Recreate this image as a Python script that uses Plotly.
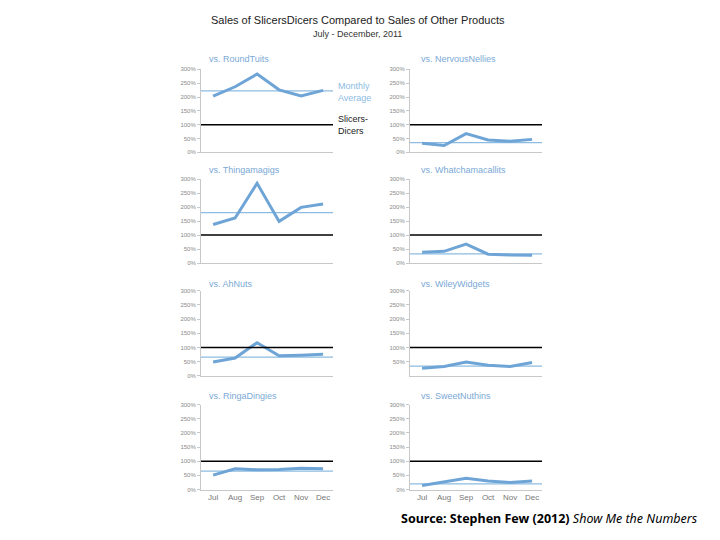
import plotly.graph_objects as go

months = ["Jul", "Aug", "Sep", "Oct", "Nov", "Dec"]
products = ["RoundTuits", "NervousNellies", "Thingamagigs", "Whatchamacallits",
            "AhNuts", "WileyWidgets", "RingaDingies", "SweetNuthins"]
round_tuits = [203, 237, 283, 226, 204, 224]
nervous_nellies = [33, 25, 68, 45, 40, 47]
thingamagigs = [138, 161, 285, 149, 199, 211]
whatchamacallits = [39, 42, 68, 32, 29, 28]
ah_nuts = [49, 63, 117, 71, 73, 76]
wiley_widgets = [27, 33, 49, 37, 33, 47]
ringa_dingies = [51, 73, 70, 71, 75, 73]
sweet_nuthins = [14, 28, 40, 30, 25, 30]
series = [round_tuits, nervous_nellies, thingamagigs, whatchamacallits,
          ah_nuts, wiley_widgets, ringa_dingies, sweet_nuthins]
monthly_avg = [222, 35, 180, 33, 66, 34, 65, 20]
baseline = 100
y_ticks = [0, 50, 100, 150, 200, 250, 300]
y_tick_text = ["0%", "50%", "100%", "150%", "200%", "250%", "300%"]

OFF = 8  # page body margin
W, H = 720 - OFF, 540 - OFF
col_px = [(201, 333), (410, 542)]
row_px = [(67, 151), (178, 263), (291, 377), (406, 492)]
title_y = [57, 169, 284, 397]
title_x = [207, 419]


def px(x):
    return (x - OFF) / W


def py(y):
    return 1 - (y - OFF) / H


LINE = "#6fa5d6"
AVG = "#8dbbe2"
TITLE_C = "#7aa9d6"

fig = go.Figure()
shapes = []
annotations = []
for i, (name, vals) in enumerate(zip(products, series)):
    r, c = divmod(i, 2)
    n = i + 1
    xa = "x" if n == 1 else f"x{n}"
    ya = "y" if n == 1 else f"y{n}"
    fig.add_trace(go.Scatter(x=months, y=vals, mode="lines", xaxis=xa, yaxis=ya,
                             line=dict(color=LINE, width=3), showlegend=False,
                             hoverinfo="skip"))
    x0, x1 = col_px[c]
    y0, y1 = row_px[r]
    key = "" if n == 1 else str(n)
    fig.layout["xaxis" + key] = dict(
        domain=[px(x0), px(x1)], anchor=ya, range=[-0.55, 5.45],
        showgrid=False, zeroline=False, showline=True, linecolor="#c8c8c8",
        linewidth=1, ticks="", showticklabels=(r == 3),
        tickfont=dict(size=8, color="#777777", family="Liberation Sans"),
        categoryorder="array", categoryarray=months, fixedrange=True)
    if name == "WileyWidgets":
        tv, tt = y_ticks[1:], y_tick_text[1:]
    else:
        tv, tt = y_ticks, y_tick_text
    fig.layout["yaxis" + key] = dict(
        domain=[py(y1), py(y0)], anchor=xa, range=[0, 300],
        tickvals=tv, ticktext=tt,
        showgrid=False, zeroline=False, showline=True, linecolor="#c8c8c8",
        linewidth=1, ticks="outside", ticklen=3, tickcolor="#c8c8c8",
        tickfont=dict(size=6, color="#8a8a8a", family="Liberation Sans"),
        fixedrange=True)
    shapes.append(dict(type="line", xref=f"{xa} domain", yref=ya, x0=0, x1=1,
                       y0=monthly_avg[i], y1=monthly_avg[i],
                       line=dict(color=AVG, width=1.2), layer="below"))
    shapes.append(dict(type="line", xref=f"{xa} domain", yref=ya, x0=0, x1=1,
                       y0=baseline, y1=baseline,
                       line=dict(color="black", width=1.5)))
    annotations.append(dict(text="vs. " + name, xref="paper", yref="paper",
                            x=px(title_x[c]), y=py(title_y[r]),
                            xanchor="left", yanchor="middle", showarrow=False,
                            font=dict(size=9, color=TITLE_C, family="Liberation Sans")))

annotations += [
    dict(text="Sales of SlicersDicers Compared to Sales of Other Products",
         xref="paper", yref="paper", x=px(358), y=py(17), showarrow=False,
         xanchor="center", yanchor="middle",
         font=dict(size=11, color="#222222", family="Liberation Sans")),
    dict(text="July - December, 2011", xref="paper", yref="paper",
         x=px(357), y=py(31), showarrow=False, xanchor="center", yanchor="middle",
         font=dict(size=9, color="#333333", family="Liberation Sans")),
    dict(text="Monthly<br>Average", xref="paper", yref="paper", x=px(336),
         y=py(90), showarrow=False, xanchor="left", yanchor="middle", align="left",
         font=dict(size=9, color=AVG, family="Liberation Sans")),
    dict(text="Slicers-<br>Dicers", xref="paper", yref="paper", x=px(336),
         y=py(123), showarrow=False, xanchor="left", yanchor="middle", align="left",
         font=dict(size=9, color="#222222", family="Liberation Sans")),
    dict(text="<b>Source: Stephen Few (2012)</b> <i>Show Me the Numbers</i>",
         xref="paper", yref="paper", x=px(700), y=py(521), showarrow=False,
         xanchor="right", yanchor="middle",
         font=dict(size=12.5, color="black", family="Noto Sans")),
]

fig.update_layout(width=W, height=H, margin=dict(l=0, r=0, t=0, b=0),
                  paper_bgcolor="white", plot_bgcolor="white",
                  shapes=shapes, annotations=annotations, showlegend=False)
fig.write_html("out.html")
